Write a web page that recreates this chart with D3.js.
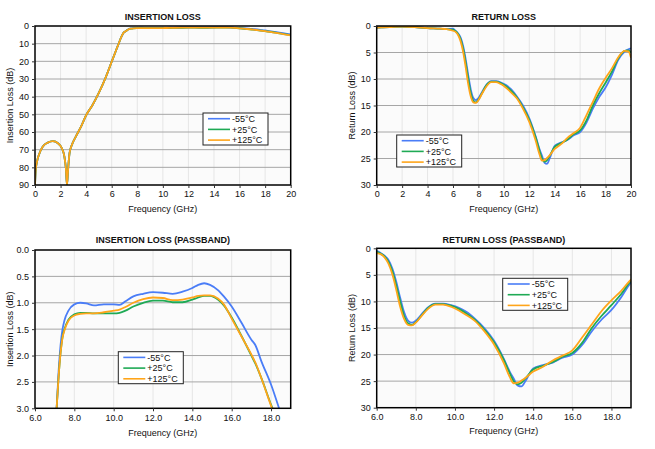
<!DOCTYPE html>
<html><head><meta charset="utf-8">
<script src="https://cdn.jsdelivr.net/npm/d3@7"></script>
<style>
html,body{margin:0;padding:0;background:#fff;}
text{font-family:"Liberation Sans",Arial,sans-serif;fill:#111;}
</style></head>
<body><svg id="c" width="655" height="449"></svg>
<script>
// ---------- DATA ----------
const seriesNames = ["-55°C", "+25°C", "+125°C"];
const seriesColors = ["#4a7df7", "#1faa55", "#ffa51a"];

// Insertion loss, stopband (common to all temperatures), GHz / dB
const ilStopFreq = [0, 0.05, 0.15, 0.3, 0.6, 1.0, 1.4, 1.8, 2.1, 2.3, 2.42, 2.5, 2.58, 2.7, 2.9, 3.2, 3.6, 4.0, 4.5, 5.0, 5.5, 6.0, 6.5, 6.8, 6.95];
const ilStop     = [90, 82, 77, 73, 68.3, 66, 65.2, 66.4, 69.2, 74, 81, 90, 82, 72, 67, 62.5, 57, 50.5, 44.7, 37.7, 29.6, 20.2, 10.8, 5.5, 3.6];

// Insertion loss, passband
const ilPassFreq = [7.1, 7.2, 7.3, 7.4, 7.5, 7.7, 8.0, 8.3, 8.6, 9.0, 9.5, 10.0, 10.3, 10.6, 11.0, 11.5, 12.0, 12.5, 13.0, 13.5, 14.0, 14.3, 14.6, 14.9, 15.3, 15.6, 16.0, 16.5, 17.0, 17.2, 17.5, 18.0, 18.5, 19.0, 19.5, 20.0];
const ilM55  = [3.0, 2.3, 1.8, 1.5, 1.33, 1.15, 1.03, 1.0, 1.01, 1.05, 1.03, 1.03, 1.04, 0.97, 0.88, 0.83, 0.80, 0.81, 0.83, 0.79, 0.72, 0.66, 0.63, 0.66, 0.76, 0.88, 1.07, 1.38, 1.70, 1.80, 2.10, 2.55, 3.1, 3.6, 4.2, 4.7];
const ilP25  = [3.0, 2.4, 1.95, 1.65, 1.5, 1.32, 1.22, 1.19, 1.19, 1.2, 1.2, 1.2, 1.19, 1.15, 1.07, 1.0, 0.96, 0.96, 0.99, 0.99, 0.94, 0.90, 0.87, 0.87, 0.94, 1.05, 1.28, 1.63, 2.0, 2.15, 2.42, 2.93, 3.4, 4.0, 4.6, 5.2];
const ilP125 = [3.0, 2.4, 1.95, 1.66, 1.52, 1.34, 1.24, 1.21, 1.2, 1.2, 1.18, 1.15, 1.13, 1.08, 1.0, 0.93, 0.90, 0.91, 0.95, 0.94, 0.90, 0.87, 0.86, 0.86, 0.92, 1.03, 1.30, 1.64, 1.98, 2.13, 2.42, 2.95, 3.45, 4.05, 4.7, 5.3];

// Return loss, low band (common)
const rlLowFreq = [0, 0.5, 1, 2, 3, 4, 5, 5.5];
const rlLow     = [0.3, 0.25, 0.2, 0.1, 0.2, 0.4, 0.5, 0.6];

// Return loss, 6-20 GHz
const rlFreq = [6.0, 6.2, 6.4, 6.6, 6.8, 7.0, 7.2, 7.4, 7.6, 7.8, 8.0, 8.3, 8.6, 9.0, 9.4, 9.8, 10.2, 10.6, 11.0, 11.5, 12.0, 12.5, 12.8, 13.0, 13.2, 13.4, 13.6, 14.0, 14.5, 15.0, 15.5, 16.0, 16.5, 17.0, 17.5, 18.0, 18.5, 19.0, 19.5, 19.8, 20.0];
const rlM55  = [0.5, 0.9, 1.4, 2.2, 3.8, 6.3, 9.3, 12.0, 13.6, 14.0, 13.6, 12.4, 11.2, 10.4, 10.4, 10.7, 11.2, 12.0, 13.2, 15.0, 17.4, 20.8, 23.2, 24.5, 25.8, 26.0, 25.0, 22.6, 22.0, 21.5, 20.6, 20.0, 18.2, 15.6, 13.4, 11.6, 9.2, 6.4, 4.8, 4.4, 4.2];
const rlP25  = [0.7, 1.0, 1.5, 2.5, 4.3, 7.0, 10.0, 12.7, 14.1, 14.4, 13.9, 12.6, 11.3, 10.5, 10.5, 10.8, 11.4, 12.3, 13.4, 15.3, 17.7, 21.0, 23.5, 25.0, 25.6, 25.3, 24.5, 22.8, 22.1, 21.4, 20.4, 19.7, 17.8, 15.0, 12.7, 10.7, 8.6, 6.1, 4.7, 4.6, 5.0];
const rlP125 = [0.9, 1.1, 1.7, 2.9, 4.9, 7.8, 11.0, 13.3, 14.4, 14.5, 14.0, 12.7, 11.5, 10.6, 10.6, 11.0, 11.7, 12.6, 13.6, 15.6, 18.1, 21.6, 24.2, 25.4, 25.3, 24.9, 24.4, 23.2, 22.3, 21.1, 20.2, 19.2, 16.8, 14.3, 11.8, 9.8, 8.0, 5.9, 4.7, 4.8, 6.0];

// Tick values
const ticksFull   = [0, 2, 4, 6, 8, 10, 12, 14, 16, 18, 20];
const ticksPass   = [6, 8, 10, 12, 14, 16, 18];
const ticksIL     = [0, 10, 20, 30, 40, 50, 60, 70, 80, 90];
const ticksILPass = [0, 0.5, 1.0, 1.5, 2.0, 2.5, 3.0];
const ticksRL     = [0, 5, 10, 15, 20, 25, 30];

// ---------- BUILD ----------
const zip = (f, v) => f.map((x, i) => ({f: x, v: v[i]}));
const ilSeries = [ilM55, ilP25, ilP125].map(arr =>
  zip(ilStopFreq, ilStop).concat(zip(ilPassFreq, arr)));
const rlSeries = [rlM55, rlP25, rlP125].map(arr =>
  zip(rlLowFreq, rlLow).concat(zip(rlFreq, arr)));

const panels = [
  {title: "INSERTION LOSS", ylab: "Insertion Loss (dB)", L: 35, R: 290.7, T: 26, B: 185,
   xd: [0, 20], yd: [0, 90], xt: ticksFull, yt: ticksIL, xf: d => d, yf: d => d,
   series: ilSeries, leg: {x: 203, y: 113}, titleY: 19.5, xtY: 196.5, xlY: 212, ylX: 13},
  {title: "RETURN LOSS", ylab: "Return Loss (dB)", L: 376.7, R: 631, T: 26, B: 185,
   xd: [0, 20], yd: [0, 30], xt: ticksFull, yt: ticksRL, xf: d => d, yf: d => d,
   series: rlSeries, leg: {x: 396.7, y: 135}, titleY: 19.5, xtY: 196.5, xlY: 212, ylX: 355},
  {title: "INSERTION LOSS (PASSBAND)", ylab: "Insertion Loss (dB)", L: 35, R: 290.7, T: 250, B: 408.3,
   xd: [6, 19], yd: [0, 3], xt: ticksPass, yt: ticksILPass, xf: d3.format(".1f"), yf: d3.format(".1f"),
   series: ilSeries, leg: {x: 118.3, y: 351.7}, titleY: 242.5, xtY: 421, xlY: 435.5, ylX: 13},
  {title: "RETURN LOSS (PASSBAND)", ylab: "Return Loss (dB)", L: 376.7, R: 631, T: 248.3, B: 407.7,
   xd: [6, 19], yd: [0, 30], xt: ticksPass, yt: ticksRL, xf: d3.format(".1f"), yf: d => d,
   series: rlSeries, leg: {x: 502.7, y: 278.3}, titleY: 242.5, xtY: 419.5, xlY: 434, ylX: 355}
];

const svg = d3.select("#c");

panels.forEach((p, pi) => {
  const x = d3.scaleLinear().domain(p.xd).range([p.L, p.R]);
  const y = d3.scaleLinear().domain(p.yd).range([p.T, p.B]);
  const g = svg.append("g");

  g.append("rect").attr("x", p.L).attr("y", p.T).attr("width", p.R - p.L).attr("height", p.B - p.T)
    .attr("fill", "#fbfbfb");

  // vertical grid
  g.selectAll(".vg").data(p.xt.filter(t => t > p.xd[0] && t < p.xd[1])).enter().append("line")
    .attr("x1", d => x(d)).attr("x2", d => x(d)).attr("y1", p.T).attr("y2", p.B)
    .attr("stroke", "#e6e6e6").attr("stroke-width", 1);
  // horizontal grid
  g.selectAll(".hg").data(p.yt.filter(t => t > p.yd[0] && t < p.yd[1])).enter().append("line")
    .attr("x1", p.L).attr("x2", p.R).attr("y1", d => y(d)).attr("y2", d => y(d))
    .attr("stroke", "#a6a6a6").attr("stroke-width", 1);

  // clip
  const cid = "clip" + pi;
  svg.append("clipPath").attr("id", cid).append("rect")
    .attr("x", p.L).attr("y", p.T).attr("width", p.R - p.L).attr("height", p.B - p.T);

  const line = d3.line().x(d => x(d.f)).y(d => y(d.v)).curve(d3.curveMonotoneX);
  const lg = g.append("g").attr("clip-path", `url(#${cid})`);
  p.series.forEach((s, i) => {
    lg.append("path").attr("d", line(s)).attr("fill", "none")
      .attr("stroke", seriesColors[i]).attr("stroke-width", 1.8).attr("stroke-linejoin", "round");
  });

  // frame
  g.append("rect").attr("x", p.L).attr("y", p.T).attr("width", p.R - p.L).attr("height", p.B - p.T)
    .attr("fill", "none").attr("stroke", "#000").attr("stroke-width", 1.5);

  // axes
  const yAxis = d3.axisLeft(y).tickValues(p.yt).tickFormat(p.yf).tickSize(3).tickPadding(3);
  const ya = g.append("g").attr("transform", `translate(${p.L},0)`).call(yAxis);
  const xAxis = d3.axisBottom(x).tickValues(p.xt).tickFormat(p.xf).tickSize(3).tickPadding(3);
  const xa = g.append("g").attr("transform", `translate(0,${p.B})`).call(xAxis);
  [ya, xa].forEach(a => {
    a.select(".domain").remove();
    a.selectAll(".tick line").attr("stroke", "#333");
    a.selectAll(".tick text").attr("font-size", 9).attr("font-family", "'Liberation Sans',Arial,sans-serif").attr("fill", "#111");
  });
  xa.selectAll(".tick text").attr("y", null).attr("dy", null).attr("transform", `translate(0,${p.xtY - p.B})`);

  // titles
  g.append("text").attr("x", (p.L + p.R) / 2).attr("y", p.titleY).attr("text-anchor", "middle")
    .attr("font-size", 9).attr("font-weight", "bold").text(p.title);
  g.append("text").attr("x", (p.L + p.R) / 2).attr("y", p.xlY).attr("text-anchor", "middle")
    .attr("font-size", 9).text("Frequency (GHz)");
  g.append("text").attr("transform", `translate(${p.ylX},${(p.T + p.B) / 2}) rotate(-90)`)
    .attr("text-anchor", "middle").attr("font-size", 9).text(p.ylab);

  // legend
  const lgd = g.append("g").attr("transform", `translate(${p.leg.x},${p.leg.y})`);
  lgd.append("rect").attr("width", 65).attr("height", 32).attr("fill", "#fff")
    .attr("stroke", "#222").attr("stroke-width", 1);
  seriesNames.forEach((n, i) => {
    const yy = 5.7 + i * 10.7;
    lgd.append("line").attr("x1", 5).attr("x2", 27).attr("y1", yy).attr("y2", yy)
      .attr("stroke", seriesColors[i]).attr("stroke-width", 1.6);
    lgd.append("text").attr("x", 29).attr("y", yy + 3.2).attr("font-size", 9).text(n);
  });
});
</script></body></html>
